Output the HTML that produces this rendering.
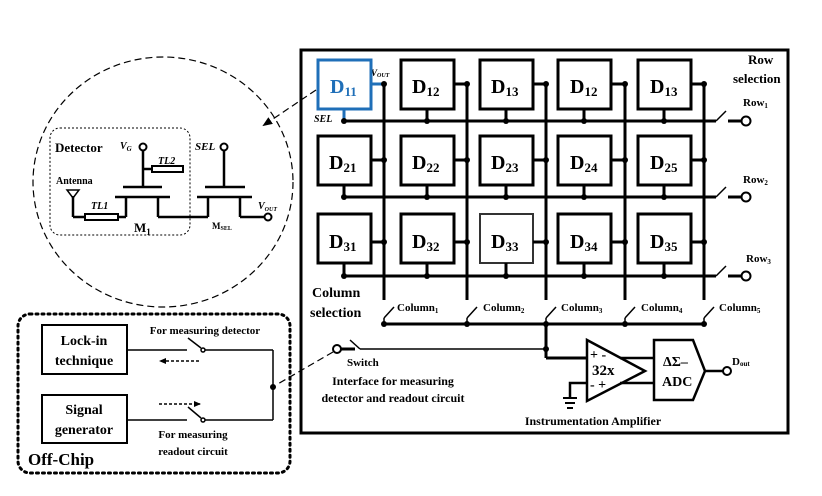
<!DOCTYPE html>
<html><head><style>body{margin:0;background:#fff}svg{display:block}text{font-family:"Liberation Serif",serif;font-weight:bold;fill:#000}</style></head><body>
<svg width="822" height="496" viewBox="0 0 822 496" xmlns="http://www.w3.org/2000/svg">
<defs><marker id="ah" markerUnits="userSpaceOnUse" markerWidth="10" markerHeight="8" refX="8" refY="4" orient="auto"><path d="M0,0 L10,4 L0,8z" fill="#000"/></marker>
<marker id="ah2" markerUnits="userSpaceOnUse" markerWidth="7" markerHeight="6" refX="6" refY="3" orient="auto"><path d="M0,0 L7,3 L0,6z" fill="#000"/></marker></defs>
<!-- left circle -->
<ellipse cx="163" cy="182" rx="130" ry="125" fill="none" stroke="#000" stroke-width="1.2" stroke-dasharray="7,4"/>
<line x1="316" y1="90" x2="264" y2="125" stroke="#000" stroke-width="1.2" stroke-dasharray="7,4" marker-end="url(#ah)"/>
<rect x="50" y="128" width="140" height="107" rx="10" fill="none" stroke="#000" stroke-width="1" stroke-dasharray="2,2"/>
<text x="55" y="152" font-size="13">Detector</text>
<text x="120" y="149" font-size="10" font-style="italic">V<tspan font-size="7" dy="2">G</tspan></text>
<text x="195" y="150" font-size="11" font-style="italic">SEL</text>
<text x="56" y="184" font-size="10">Antenna</text>
<text x="158" y="164" font-size="10" font-style="italic">TL2</text>
<text x="91" y="209" font-size="10" font-style="italic">TL1</text>
<text x="134" y="232" font-size="13">M<tspan font-size="9" dy="3">1</tspan></text>
<text x="212" y="229" font-size="9">M<tspan font-size="6" dy="1">SEL</tspan></text>
<text x="258" y="209" font-size="10" font-style="italic">V<tspan font-size="6" dy="2">OUT</tspan></text>
<g stroke="#000" stroke-width="2.5" fill="none">
<line x1="143" y1="151" x2="143" y2="186"/>
<line x1="143" y1="169" x2="152" y2="169"/>
<line x1="123" y1="187" x2="162" y2="187"/>
<line x1="115" y1="197" x2="170" y2="197"/>
<line x1="126" y1="197" x2="126" y2="217"/>
<line x1="158" y1="197" x2="158" y2="217"/>
<line x1="73" y1="196" x2="73" y2="217"/>
<line x1="73" y1="217" x2="85" y2="217"/>
<line x1="118" y1="217" x2="126" y2="217"/>
<line x1="158" y1="217" x2="208" y2="217"/>
<line x1="224" y1="151" x2="224" y2="186"/>
<line x1="205" y1="187" x2="245" y2="187"/>
<line x1="197" y1="197" x2="252" y2="197"/>
<line x1="208" y1="197" x2="208" y2="217"/>
<line x1="240" y1="197" x2="240" y2="217"/>
<line x1="240" y1="217" x2="264" y2="217"/>
</g>
<g stroke="#000" stroke-width="2" fill="#fff">
<rect x="152" y="166" width="31" height="6"/>
<rect x="85" y="214" width="33" height="6"/>
<circle cx="143" cy="147" r="3.5"/>
<circle cx="224" cy="147" r="3.5"/>
<circle cx="268" cy="217" r="3.5"/>
</g>
<path d="M67,190 L79,190 L73,198z" fill="none" stroke="#000" stroke-width="1.5"/>
<!-- main box -->
<rect x="301" y="50" width="487" height="383" fill="none" stroke="#000" stroke-width="3"/>
<g stroke="#000" stroke-width="3" fill="none">
<line x1="384" y1="84" x2="384" y2="300"/>
<line x1="467" y1="84" x2="467" y2="300"/>
<line x1="546" y1="84" x2="546" y2="300"/>
<line x1="625" y1="84" x2="625" y2="300"/>
<line x1="704" y1="84" x2="704" y2="300"/>
<line x1="344" y1="121" x2="716" y2="121"/>
<line x1="344" y1="197" x2="716" y2="197"/>
<line x1="344" y1="276" x2="716" y2="276"/>
<line x1="728" y1="121" x2="742" y2="121"/>
<line x1="728" y1="197" x2="742" y2="197"/>
<line x1="728" y1="276" x2="742" y2="276"/>
<line x1="384" y1="324" x2="704" y2="324"/>
<line x1="546" y1="324" x2="546" y2="358"/>
<line x1="546" y1="358" x2="587" y2="358"/>
</g>
<g stroke="#000" stroke-width="1.5">
<line x1="716" y1="121" x2="726" y2="111"/>
<line x1="716" y1="197" x2="726" y2="187"/>
<line x1="716" y1="276" x2="726" y2="266"/>
<line x1="384" y1="318" x2="394" y2="307"/>
<line x1="467" y1="318" x2="477" y2="307"/>
<line x1="546" y1="318" x2="556" y2="307"/>
<line x1="625" y1="318" x2="635" y2="307"/>
<line x1="704" y1="318" x2="714" y2="307"/>
<line x1="384" y1="318" x2="384" y2="324"/><line x1="467" y1="318" x2="467" y2="324"/><line x1="546" y1="318" x2="546" y2="324"/><line x1="625" y1="318" x2="625" y2="324"/><line x1="704" y1="318" x2="704" y2="324"/>
</g>
<g stroke="#000" stroke-width="2" fill="#fff">
<circle cx="746" cy="121" r="4.5"/><circle cx="746" cy="197" r="4.5"/><circle cx="746" cy="276" r="4.5"/>
</g>
<text x="748" y="64" font-size="13">Row</text>
<text x="733" y="83" font-size="13">selection</text>
<text x="743" y="106" font-size="11">Row<tspan font-size="7" dy="2">1</tspan></text>
<text x="743" y="183" font-size="11">Row<tspan font-size="7" dy="2">2</tspan></text>
<text x="746" y="262" font-size="11">Row<tspan font-size="7" dy="2">3</tspan></text>
<text x="312" y="297" font-size="14">Column</text>
<text x="310" y="317" font-size="14">selection</text>
<g font-size="11">
<text x="397" y="311">Column<tspan font-size="7" dy="2">1</tspan></text>
<text x="483" y="311">Column<tspan font-size="7" dy="2">2</tspan></text>
<text x="561" y="311">Column<tspan font-size="7" dy="2">3</tspan></text>
<text x="641" y="311">Column<tspan font-size="7" dy="2">4</tspan></text>
<text x="719" y="311">Column<tspan font-size="7" dy="2">5</tspan></text>
</g>
<text x="314" y="122" font-size="10" font-style="italic">SEL</text>
<text x="371" y="76" font-size="9" font-style="italic">V<tspan font-size="6" dy="1">OUT</tspan></text>
<g stroke-width="3" fill="none">
<rect x="318" y="60" width="53" height="49" stroke="#1f6fb8"/>
<rect x="401" y="60" width="53" height="49" stroke="#000"/>
<rect x="480" y="60" width="53" height="49" stroke="#000"/>
<rect x="558" y="60" width="53" height="49" stroke="#000"/>
<rect x="638" y="60" width="53" height="49" stroke="#000"/>
<rect x="318" y="136" width="53" height="49" stroke="#000"/>
<rect x="401" y="136" width="53" height="49" stroke="#000"/>
<rect x="480" y="136" width="53" height="49" stroke="#000"/>
<rect x="558" y="136" width="53" height="49" stroke="#000"/>
<rect x="638" y="136" width="53" height="49" stroke="#000"/>
<rect x="318" y="214" width="53" height="49" stroke="#000"/>
<rect x="401" y="214" width="53" height="49" stroke="#000"/>
<rect x="480" y="214" width="53" height="49" stroke="#333" stroke-width="2"/>
<rect x="558" y="214" width="53" height="49" stroke="#000"/>
<rect x="638" y="214" width="53" height="49" stroke="#000"/>
</g>
<g stroke="#000" stroke-width="3">
<line x1="371" y1="84" x2="384" y2="84" stroke="#1f6fb8"/><line x1="344" y1="109" x2="344" y2="121" stroke="#1f6fb8"/>
<line x1="454" y1="84" x2="467" y2="84"/><line x1="533" y1="84" x2="546" y2="84"/><line x1="611" y1="84" x2="625" y2="84"/><line x1="691" y1="84" x2="704" y2="84"/>
<line x1="371" y1="160" x2="384" y2="160"/><line x1="454" y1="160" x2="467" y2="160"/><line x1="533" y1="160" x2="546" y2="160"/><line x1="611" y1="160" x2="625" y2="160"/><line x1="691" y1="160" x2="704" y2="160"/>
<line x1="371" y1="242" x2="384" y2="242"/><line x1="454" y1="242" x2="467" y2="242"/><line x1="533" y1="242" x2="546" y2="242"/><line x1="611" y1="242" x2="625" y2="242"/><line x1="691" y1="242" x2="704" y2="242"/>
<line x1="427" y1="109" x2="427" y2="121"/><line x1="506" y1="109" x2="506" y2="121"/><line x1="584" y1="109" x2="584" y2="121"/><line x1="664" y1="109" x2="664" y2="121"/>
<line x1="344" y1="185" x2="344" y2="197"/><line x1="427" y1="185" x2="427" y2="197"/><line x1="506" y1="185" x2="506" y2="197"/><line x1="584" y1="185" x2="584" y2="197"/><line x1="664" y1="185" x2="664" y2="197"/>
<line x1="344" y1="263" x2="344" y2="276"/><line x1="427" y1="263" x2="427" y2="276"/><line x1="506" y1="263" x2="506" y2="276"/><line x1="584" y1="263" x2="584" y2="276"/><line x1="664" y1="263" x2="664" y2="276"/>
</g>
<g fill="#000">
<circle cx="384" cy="84" r="3"/><circle cx="467" cy="84" r="3"/><circle cx="546" cy="84" r="3"/><circle cx="625" cy="84" r="3"/><circle cx="704" cy="84" r="3"/>
<circle cx="384" cy="160" r="3"/><circle cx="467" cy="160" r="3"/><circle cx="546" cy="160" r="3"/><circle cx="625" cy="160" r="3"/><circle cx="704" cy="160" r="3"/>
<circle cx="384" cy="242" r="3"/><circle cx="467" cy="242" r="3"/><circle cx="546" cy="242" r="3"/><circle cx="625" cy="242" r="3"/><circle cx="704" cy="242" r="3"/>
<circle cx="344" cy="121" r="3"/><circle cx="427" cy="121" r="3"/><circle cx="506" cy="121" r="3"/><circle cx="584" cy="121" r="3"/><circle cx="664" cy="121" r="3"/>
<circle cx="344" cy="197" r="3"/><circle cx="427" cy="197" r="3"/><circle cx="506" cy="197" r="3"/><circle cx="584" cy="197" r="3"/><circle cx="664" cy="197" r="3"/>
<circle cx="344" cy="276" r="3"/><circle cx="427" cy="276" r="3"/><circle cx="506" cy="276" r="3"/><circle cx="584" cy="276" r="3"/><circle cx="664" cy="276" r="3"/>
<circle cx="384" cy="324" r="3"/><circle cx="467" cy="324" r="3"/><circle cx="546" cy="324" r="3"/><circle cx="625" cy="324" r="3"/><circle cx="704" cy="324" r="3"/>
<circle cx="546" cy="349" r="3"/><circle cx="273" cy="387" r="3"/>
</g>
<g font-size="20">
<text x="330" y="93" style="fill:#1f6fb8">D<tspan font-size="13" dy="3">11</tspan></text>
<text x="412" y="93">D<tspan font-size="13" dy="3">12</tspan></text>
<text x="491" y="93">D<tspan font-size="13" dy="3">13</tspan></text>
<text x="570" y="93">D<tspan font-size="13" dy="3">12</tspan></text>
<text x="650" y="93">D<tspan font-size="13" dy="3">13</tspan></text>
<text x="329" y="169">D<tspan font-size="13" dy="3">21</tspan></text>
<text x="412" y="169">D<tspan font-size="13" dy="3">22</tspan></text>
<text x="491" y="169">D<tspan font-size="13" dy="3">23</tspan></text>
<text x="570" y="169">D<tspan font-size="13" dy="3">24</tspan></text>
<text x="650" y="169">D<tspan font-size="13" dy="3">25</tspan></text>
<text x="329" y="248">D<tspan font-size="13" dy="3">31</tspan></text>
<text x="412" y="248">D<tspan font-size="13" dy="3">32</tspan></text>
<text x="491" y="248">D<tspan font-size="13" dy="3">33</tspan></text>
<text x="570" y="248">D<tspan font-size="13" dy="3">34</tspan></text>
<text x="650" y="248">D<tspan font-size="13" dy="3">35</tspan></text>
</g>
<g stroke="#000" fill="none">
<line x1="360" y1="349" x2="546" y2="349" stroke-width="1.5"/>
<line x1="350" y1="340" x2="360" y2="349" stroke-width="1.5"/>
<line x1="340" y1="349" x2="355" y2="349" stroke-width="3"/>
<circle cx="337" cy="349" r="4" stroke-width="2" fill="#fff"/>
<line x1="333" y1="352" x2="276" y2="385" stroke-width="1.2" stroke-dasharray="7,4"/>
<path d="M587,340 L645,371 L587,401z" stroke-width="2.5"/>
<line x1="620" y1="358" x2="654" y2="358" stroke-width="2.5"/>
<line x1="620" y1="383" x2="654" y2="383" stroke-width="2.5"/>
<path d="M587,383 L570,383 L570,398" stroke-width="2.5"/>
<line x1="563" y1="398" x2="577" y2="398" stroke-width="2"/>
<line x1="565" y1="403" x2="575" y2="403" stroke-width="2"/>
<line x1="567" y1="408" x2="573" y2="408" stroke-width="2"/>
<path d="M654,340 L693,340 L705,371 L693,400 L654,400z" stroke-width="2.5"/>
<line x1="705" y1="371" x2="723" y2="371" stroke-width="2.5"/>
<circle cx="727" cy="371" r="4" stroke-width="2" fill="#fff"/>
</g>
<text x="590" y="359" font-size="14">+ -</text>
<text x="592" y="375" font-size="15">32x</text>
<text x="590" y="389" font-size="14">- +</text>
<text x="663" y="366" font-size="14">ΔΣ–</text>
<text x="662" y="386" font-size="14">ADC</text>
<text x="732" y="365" font-size="11">D<tspan font-size="7" dy="1">out</tspan></text>
<text x="593" y="425" font-size="12" text-anchor="middle">Instrumentation Amplifier</text>
<text x="347" y="366" font-size="11">Switch</text>
<text x="393" y="385" font-size="12" text-anchor="middle">Interface for measuring</text>
<text x="393" y="402" font-size="12" text-anchor="middle">detector and readout circuit</text>
<rect x="18" y="314" width="272" height="159" rx="12" fill="none" stroke="#000" stroke-width="3" stroke-dasharray="2,4" stroke-linecap="round"/>
<rect x="42" y="325" width="85" height="49" fill="none" stroke="#000" stroke-width="2"/>
<rect x="42" y="395" width="85" height="48" fill="none" stroke="#000" stroke-width="2"/>
<text x="84" y="345" font-size="14" text-anchor="middle">Lock-in</text>
<text x="84" y="365" font-size="14" text-anchor="middle">technique</text>
<text x="84" y="414" font-size="14" text-anchor="middle">Signal</text>
<text x="84" y="434" font-size="14" text-anchor="middle">generator</text>
<text x="205" y="334" font-size="11" text-anchor="middle">For measuring detector</text>
<text x="193" y="438" font-size="11" text-anchor="middle">For measuring</text>
<text x="193" y="455" font-size="11" text-anchor="middle">readout circuit</text>
<text x="28" y="465" font-size="17">Off-Chip</text>
<g stroke="#000" stroke-width="1.5" fill="none">
<line x1="127" y1="350" x2="187" y2="350"/>
<line x1="188" y1="338" x2="201" y2="348"/>
<line x1="205" y1="350" x2="273" y2="350"/>
<line x1="273" y1="350" x2="273" y2="420"/>
<line x1="127" y1="420" x2="187" y2="420"/>
<line x1="188" y1="407" x2="201" y2="418"/>
<line x1="205" y1="420" x2="273" y2="420"/>
<circle cx="203" cy="350" r="2" fill="#fff"/>
<circle cx="203" cy="420" r="2" fill="#fff"/>
<line x1="199" y1="361" x2="160" y2="361" stroke-dasharray="3,2" marker-end="url(#ah2)"/>
<line x1="159" y1="404" x2="200" y2="404" stroke-dasharray="3,2" marker-end="url(#ah2)"/>
</g>
</svg>
</body></html>
